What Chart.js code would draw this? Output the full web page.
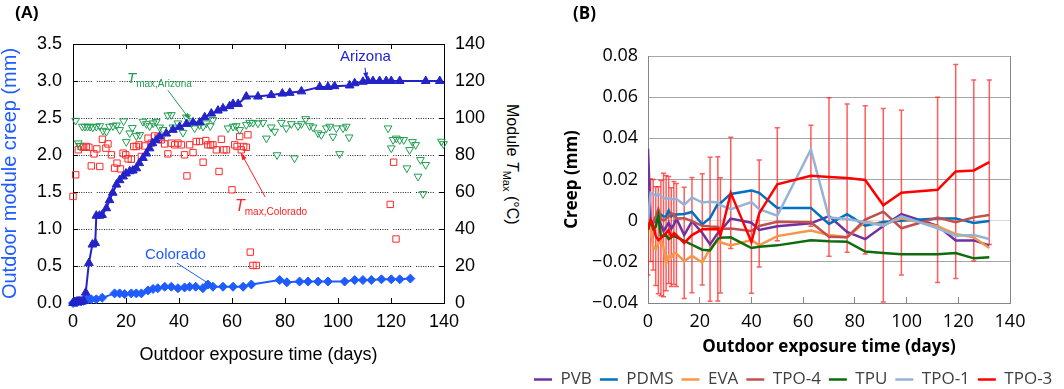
<!DOCTYPE html>
<html lang="en">
<head>
<meta charset="UTF-8">
<title>Outdoor module creep</title>
<style>
  * { margin: 0; padding: 0; box-sizing: border-box; }
  body {
    width: 1064px;
    height: 389px;
    overflow: hidden;
    background: #ffffff;
    position: relative;
    font-family: "Liberation Sans", Arial, sans-serif;
  }
  canvas { position: absolute; top: 0; }
  #chartA { left: 0; }
  #chartB { left: 526px; }
  .lbl { position: absolute; white-space: nowrap; line-height: 1; z-index: 2; }
  .panel { font-weight: bold; font-size: 17px; color: #000; }
  .sub { font-size: 10px; font-style: normal; vertical-align: -4px; }
  #rightTitle {
    left: 520px; top: 104px; font-size: 16px; color: #000;
    transform: rotate(90deg); transform-origin: left top;
  }
</style>
</head>
<body>
  <canvas id="chartA" width="490" height="389"></canvas>
  <canvas id="chartB" width="600" height="398"></canvas>

  <div class="lbl panel" style="left:15px;top:4px;">(A)</div>
  <div class="lbl panel" style="left:573px;top:4px;font-family:'Open Sans',sans-serif;">(B)</div>

  <!-- annotations for panel A -->
  <div class="lbl" style="left:340px;top:48px;font-size:15px;color:#2020e0;">Arizona</div>
  <div class="lbl" style="left:145px;top:246px;font-size:15px;color:#1f5cff;">Colorado</div>
  <div class="lbl" style="left:127px;top:70px;color:#1f9e50;"><i style="font-size:15px">T</i><span class="sub">max,Arizona</span></div>
  <div class="lbl" style="left:235px;top:198px;color:#ff2020;"><i style="font-size:16px">T</i><span class="sub">max,Colorado</span></div>
  <div class="lbl" id="rightTitle">Module <i>T</i><span style="font-size:11px;vertical-align:-4px">Max</span> (°C)</div>

  <script src="https://cdn.jsdelivr.net/npm/chart.js"></script>
  <script>
    // ---- panel A data ----
    const azDays = [0, 0.5, 1, 1.5, 2, 2.5, 3, 3.5, 4, 4.8, 6, 7.3, 8.4, 8.8, 10, 11, 12.6, 13.8, 15, 16.4,
      17.6, 18.9, 20, 21.4, 22.6, 23.9, 25, 26.4, 27.7, 28.9, 30, 31.4, 32.7, 35.2, 37.7, 40.2, 42.8, 45.3, 47.8, 49.7,
      52.2, 54.7, 56.6, 59.1, 60.4, 62.3, 65.4, 69.8, 74.8, 79, 81.8, 86.2, 93.1, 96.2, 98.7, 104.4, 106.3, 109.4, 111.3, 113.2,
      115.7, 118.2, 120.1, 123.3, 133.1, 138.4];
    const azCreep = [0, 0.01, 0.01, 0.02, 0.02, 0.02, 0.02, 0.02, 0.03, 0.14, 0.54, 0.79, 0.81, 1.18, 1.18, 1.19, 1.28, 1.39, 1.49, 1.6,
      1.66, 1.71, 1.75, 1.78, 1.79, 1.82, 1.89, 1.96, 2.02, 2.09, 2.16, 2.2, 2.25, 2.29, 2.34, 2.38, 2.42, 2.44, 2.44, 2.51,
      2.56, 2.6, 2.63, 2.66, 2.69, 2.69, 2.79, 2.79, 2.81, 2.83, 2.84, 2.86, 2.92, 2.92, 2.93, 2.94, 2.97, 2.99, 3.0, 3.0,
      3.0, 3.0, 3.0, 3.0, 3.0, 3.0];

    const coDays = [0, 0.5, 1, 1.5, 2, 3, 4, 5.7, 6.9, 8.8, 11, 15.7, 17.6, 19.5, 22, 23.9, 25.8, 28.3, 30.2, 32,
      34.6, 37.1, 39.6, 42.1, 44, 46.3, 49, 50.9, 52.8, 56.6, 60.4, 64.2, 67.3, 78, 80.7, 85.5, 88.7, 92.5, 96.2, 102.5,
      106.3, 109.4, 112.6, 116.4, 120.1, 123.3, 127.3];
    const coCreep = [0, 0.01, 0.01, 0.01, 0.02, 0.02, 0.03, 0.05, 0.05, 0.05, 0.07, 0.13, 0.13, 0.12, 0.13, 0.13, 0.13, 0.17, 0.19, 0.2,
      0.22, 0.22, 0.2, 0.21, 0.22, 0.22, 0.2, 0.25, 0.22, 0.22, 0.22, 0.22, 0.25, 0.31, 0.28, 0.29, 0.29, 0.29, 0.29, 0.29,
      0.31, 0.31, 0.31, 0.32, 0.32, 0.32, 0.33];

    const tAzDays = [1.0, 2.0, 2.5, 3.5, 4.5, 5.5, 6.5, 7.5, 8.8, 10.1, 11.3, 12.6, 13.8, 15.1, 16.4, 17.6, 19.1, 20.1, 21.4, 22.4,
      23.9, 25.2, 26.4, 27.7, 28.9, 30.2, 31.4, 32.7, 34.0, 35.8, 37.1, 37.7, 39.6, 41.5, 42.8, 44.7, 45.9, 47.8, 49.1, 50.3,
      51.8, 52.8, 58.5, 60.4, 61.6, 62.9, 65.4, 66.7, 67.9, 69.8, 71.7, 73.0, 74.8, 76.1, 77.0, 78.6, 80.5, 82.4, 83.6, 84.9,
      86.2, 87.8, 89.3, 90.6, 92.5, 93.7, 95.6, 96.9, 98.1, 99.4, 100.6, 101.9, 103.1, 104.2, 118.9, 120.1, 120.8, 122.0, 123.3, 124.8,
      126.0, 127.0, 128.1, 129.3, 130.2, 131.1, 132.1, 133.1, 139.0, 139.8];
    const tAzTemp = [98.6, 86.4, 85.0, 95.4, 95.4, 95.4, 95.4, 95.0, 95.4, 95.7, 93.2, 92.7, 95.4, 95.7, 96.1, 93.6, 98.3, 87.1, 91.8, 94.7,
      90.3, 90.9, 98.1, 96.8, 95.7, 97.2, 97.9, 95.0, 93.6, 101.5, 101.7, 95.0, 97.2, 92.1, 100.4, 97.2, 94.5, 96.3, 95.4, 97.2,
      95.7, 99.0, 94.5, 95.4, 95.7, 93.6, 96.3, 97.5, 97.5, 97.2, 97.5, 89.0, 95.0, 92.7, 80.0, 97.5, 94.5, 96.8, 78.3, 95.7,
      96.8, 99.5, 95.7, 95.0, 91.8, 90.9, 94.5, 95.4, 90.0, 94.5, 80.6, 94.5, 95.4, 89.6, 94.5, 83.7, 88.2, 89.0, 88.2, 88.2,
      72.9, 82.8, 87.1, 85.5, 68.4, 77.4, 59.0, 74.7, 87.3, 86.0];

    const tCoDays = [0, 1, 2, 3, 4, 5, 6, 6.9, 7.9, 9, 10.1, 11.1, 12.4, 13.2, 14.5, 15.7, 16.6, 17.9, 18.9, 19.9,
      20.8, 22, 22.9, 23.9, 24.9, 25.8, 27, 28.3, 29.6, 30.8, 32.1, 33.3, 34.6, 35.8, 37.1, 38.4, 39.6, 40.9, 42.1, 43,
      44, 45.3, 46.5, 47.8, 49.1, 50.1, 50.9, 51.9, 52.8, 54.1, 55.1, 56, 56.9, 57.9, 60, 61, 61.9, 62.9, 63.5, 64.4,
      65.4, 66, 66.9, 67.9, 69.2, 119.7, 121, 121.9];
    const tCoTemp = [57.6, 69.3, 82.8, 84.6, 84.2, 84.6, 84.2, 74.1, 80.6, 83.3, 73.8, 88.5, 83.7, 86, 80.1, 72.9, 75.6, 72.5, 81, 80.1,
      77.9, 77.7, 84.6, 84.6, 85.5, 79.2, 84.9, 89.1, 86.4, 90.3, 89.6, 88.2, 86, 80.6, 86.4, 85.5, 86.4, 85.5, 80.1, 68.7,
      85.5, 81.3, 87.3, 87.3, 76.1, 87.8, 85.5, 85.5, 85.5, 82.8, 71.1, 88.5, 82.8, 82.8, 61.2, 85.5, 84.6, 90, 82.8, 84.6,
      84.2, 90.9, 27.5, 20.3, 20.3, 53.3, 76.1, 34.6];

    // annotation arrows (data coordinates): from label to target
    const arrowsA = [
      { from: [110.2, 3.18], to: [110.8, 3.02], axis: 'y', color: '#2020e0', head: true },
      { from: [39.2, 0.54], to: [50.9, 0.27], axis: 'y', color: '#1f5cff', head: false },
      { from: [35.8, 115], to: [44.2, 99], axis: 'y2', color: '#1f9e50', head: true },
      { from: [72.5, 57.3], to: [63.4, 81.1], axis: 'y2', color: '#ff2020', head: true }
    ];

    // ---- panel B data ----
    const bDays = [0, 1, 2, 3, 4, 5, 6, 7, 8, 9, 10, 11, 14, 17, 21, 24, 27, 28, 32, 40, 43, 50, 63, 70, 77, 84, 91, 98, 112, 119, 126, 132];
    const pvb = [0.035, 0.0, -0.001, 0.0, 0.001, -0.002, -0.005, -0.003, -0.001, -0.004, -0.002, 0.001,
      -0.007, -0.0003, -0.006, -0.0115, -0.006, -0.005, 0.001, -0.001, -0.0045, -0.0027, -0.0013, 0.0022,
      -0.0055, -0.009, -0.0026, 0.0032, -0.0025, -0.0096, -0.0096, -0.012];
    const pdms = [0, 0, -0.001, 0, 0.002, 0.003, 0.002, 0.002, 0.005, 0.002, 0.003, 0.003,
      0.0032, 0.0042, -0.0018, 0.0013, 0.0082, 0.0085, 0.013, 0.0147, 0.0135, 0.0062, 0.0062, -0.0016,
      0.0032, -0.0024, -0.0006, 0.0, 0.0011, 0.0011, -0.0011, -0.0002];
    const eva = [0, -0.004, -0.0125, -0.014, -0.011, -0.009, -0.013, -0.021, -0.017, -0.018, -0.0157, -0.016,
      -0.0197, -0.017, -0.0203, -0.0135, -0.0095, -0.0105, -0.012, -0.0094, -0.012, -0.0075, -0.0048, -0.007,
      -0.0081, -0.0005, -0.0021, 0.0011, -0.0027, -0.0065, -0.0081, -0.0133];
    const tpo4 = [-0.003, 0, -0.001, 0.002, 0.0057, 0.001, 0.0, 0.001, 0.002, 0.0037, 0.003, 0.001,
      0.0012, -0.0002, -0.0025, -0.0028, -0.003, -0.004, -0.0038, -0.005, -0.0026, -0.0005, -0.0008, -0.0078,
      -0.0081, 0.0005, 0.0044, -0.0037, 0.0015, -0.0008, 0.0016, 0.0027];
    const tpu = [-0.0044, 0.0, -0.004, -0.003, 0.0025, -0.008, -0.0075, -0.007, -0.009, -0.008, -0.0075, -0.008,
      -0.0098, -0.0117, -0.0141, -0.0145, -0.0089, -0.0083, -0.0081, -0.0133, -0.0127, -0.012, -0.0095, -0.01,
      -0.0102, -0.015, -0.0157, -0.0163, -0.0163, -0.0157, -0.0183, -0.0178];
    const tpo1 = [0, 0.0135, 0.013, 0.012, 0.013, 0.012, 0.011, 0.0105, 0.011, 0.0105, 0.0105, 0.0105,
      0.0077, 0.0113, 0.0088, 0.0092, 0.0088, 0.0075, 0.0056, 0.009, 0.0056, 0.0024, 0.0346, 0.0015,
      0.0008, -0.0008, -0.0024, 0.0021, -0.0037, -0.0073, -0.007, -0.0089];
    const tpo3 = [-0.0044, 0.0002, -0.002, -0.0075, -0.0095, -0.0085, -0.007, -0.006, -0.0045, -0.008, -0.006, -0.007,
      -0.0108, -0.007, -0.0042, -0.0042, -0.004, -0.0072, 0.0135, -0.0103, 0.0035, 0.0177, 0.0218, 0.0212,
      0.0207, 0.0198, 0.0075, 0.0136, 0.015, 0.0239, 0.0244, 0.0284];
    const tpo3Err = [0.022, 0.02, 0.022, 0.024, 0.026, 0.028, 0.030, 0.028, 0.026, 0.024, 0.025, 0.025,
      0.027, 0.028, 0.027, 0.035, 0.035, 0.028, 0.027, 0.025, 0.026, 0.0275, 0.0245, 0.0385,
      0.036, 0.036, 0.047, 0.040, 0.045, 0.052, 0.044, 0.040];

    const seriesNames = ['PVB', 'PDMS', 'EVA', 'TPO-4', 'TPU', 'TPO-1', 'TPO-3'];
    const seriesVals = [pvb, pdms, eva, tpo4, tpu, tpo1, tpo3];
    const seriesColors = ['#7030a0', '#0070c0', '#f79646', '#c0504d', '#0e6b0e', '#95b3d7', '#ff0000'];

    const FA = '"Liberation Sans", Arial, sans-serif';
    const FB = '"Open Sans", sans-serif';
    const pts = (xs, ys) => xs.map((x, i) => ({ x: x, y: ys[i] }));
    const fitW = w => s => { s.width = w; };
    const fitH = h => s => { s.height = h; };

    // dotted gridline pattern of panel A (runs of dots with small gaps)
    const dots = [1, 1.4, 1, 1.4, 1, 1.4, 1, 1.4, 1, 1.4, 1, 1.4, 1, 1.4, 1, 5];

    const arrowPlugin = {
      id: 'arrows',
      afterDatasetsDraw(chart) {
        const ctx = chart.ctx;
        const sx = chart.scales.x;
        arrowsA.forEach(a => {
          const sy = chart.scales[a.axis];
          const x1 = sx.getPixelForValue(a.from[0]), y1 = sy.getPixelForValue(a.from[1]);
          const x2 = sx.getPixelForValue(a.to[0]), y2 = sy.getPixelForValue(a.to[1]);
          ctx.save();
          ctx.strokeStyle = a.color;
          ctx.fillStyle = a.color;
          ctx.lineWidth = 1;
          ctx.beginPath();
          ctx.moveTo(x1, y1);
          ctx.lineTo(x2, y2);
          ctx.stroke();
          if (a.head) {
            const ang = Math.atan2(y2 - y1, x2 - x1);
            const L = 7, W = 2.5;
            const bx = x2 - L * Math.cos(ang), by = y2 - L * Math.sin(ang);
            ctx.beginPath();
            ctx.moveTo(x2, y2);
            ctx.lineTo(bx + W * Math.sin(ang), by - W * Math.cos(ang));
            ctx.lineTo(bx - W * Math.sin(ang), by + W * Math.cos(ang));
            ctx.closePath();
            ctx.fill();
          }
          ctx.restore();
        });
      }
    };

    new Chart(document.getElementById('chartA'), {
      type: 'line',
      data: {
        datasets: [
          {
            label: 'Arizona', data: pts(azDays, azCreep), yAxisID: 'y',
            borderColor: '#2323c8', backgroundColor: '#2323c8', borderWidth: 2,
            pointStyle: 'triangle', pointRadius: 5, pointBorderWidth: 1, clip: 10
          },
          {
            label: 'Colorado', data: pts(coDays, coCreep), yAxisID: 'y',
            borderColor: '#1f5cff', backgroundColor: '#1f5cff', borderWidth: 2,
            pointStyle: 'rectRot', pointRadius: 4.5, pointBorderWidth: 1, clip: 10
          },
          {
            label: 'Tmax,Arizona', data: pts(tAzDays, tAzTemp), yAxisID: 'y2', showLine: false,
            borderColor: '#1f9e50', backgroundColor: 'rgba(0,0,0,0)',
            pointStyle: 'triangle', pointRotation: 180, pointRadius: 4.5, pointBorderWidth: 1, clip: 10
          },
          {
            label: 'Tmax,Colorado', data: pts(tCoDays, tCoTemp), yAxisID: 'y2', showLine: false,
            borderColor: '#ff2a2a', backgroundColor: 'rgba(0,0,0,0)',
            pointStyle: 'rect', pointRadius: 4.5, pointBorderWidth: 1, clip: 10
          }
        ]
      },
      options: {
        responsive: false,
        animation: false,
        layout: { padding: 0 },
        plugins: { legend: { display: false }, tooltip: { enabled: false } },
        scales: {
          x: {
            type: 'linear', position: 'bottom', min: 0, max: 140,
            ticks: { stepSize: 20, color: '#000', font: { family: FA, size: 18 }, padding: 13, maxRotation: 0 },
            grid: { drawOnChartArea: false, tickLength: -5, tickColor: '#000' },
            border: { color: '#000' },
            title: {
              display: true, text: 'Outdoor exposure time (days)', color: '#000',
              font: { family: FA, size: 18 }, padding: { top: 0, bottom: 23 }
            },
            afterFit: fitH(86)
          },
          x2: {
            type: 'linear', position: 'top', min: 0, max: 140,
            ticks: { stepSize: 20, display: false },
            grid: { drawOnChartArea: false, tickLength: -5, tickColor: '#000' },
            border: { color: '#000' },
            afterFit: fitH(44)
          },
          y: {
            type: 'linear', position: 'left', min: 0, max: 3.5,
            ticks: { stepSize: 0.5, callback: v => v.toFixed(1), color: '#000', font: { family: FA, size: 18 }, padding: 16 },
            grid: { color: '#222', tickLength: -5, tickColor: '#000', tickBorderDash: [] },
            border: { color: '#000', dash: dots },
            title: {
              display: true, text: 'Outdoor module creep (mm)', color: '#1f5cff',
              font: { family: FA, size: 20, lineHeight: 1 }, padding: { top: 0, bottom: 0 }
            },
            afterFit: fitW(73)
          },
          y2: {
            type: 'linear', position: 'right', min: 0, max: 140,
            ticks: { stepSize: 20, color: '#000', font: { family: FA, size: 18 }, padding: 16 },
            grid: { drawOnChartArea: false, tickLength: -5, tickColor: '#000' },
            border: { color: '#000' },
            afterFit: fitW(46)
          }
        }
      },
      plugins: [arrowPlugin]
    });

    // error bars of TPO-3, drawn under the lines
    const errorBars = {
      id: 'errorBars',
      beforeDatasetsDraw(chart) {
        const { ctx, chartArea, scales: { x, y } } = chart;
        ctx.save();
        ctx.beginPath();
        ctx.rect(chartArea.left, chartArea.top, chartArea.right - chartArea.left, chartArea.bottom - chartArea.top);
        ctx.clip();
        ctx.strokeStyle = 'rgba(255,30,30,0.72)';
        ctx.lineWidth = 1.5;
        bDays.forEach((d, i) => {
          const px = x.getPixelForValue(d);
          const yTop = y.getPixelForValue(tpo3[i] + tpo3Err[i]);
          const yBot = y.getPixelForValue(tpo3[i] - tpo3Err[i]);
          ctx.beginPath();
          ctx.moveTo(px, yTop); ctx.lineTo(px, yBot);
          ctx.moveTo(px - 2.5, yTop); ctx.lineTo(px + 2.5, yTop);
          ctx.moveTo(px - 2.5, yBot); ctx.lineTo(px + 2.5, yBot);
          ctx.stroke();
        });
        ctx.restore();
      }
    };

    // dataset 0 is drawn last by Chart.js, so the list is reversed to keep TPO-3 on top
    const datasetsB = seriesNames.map((name, i) => ({
      label: name,
      data: pts(bDays, seriesVals[i]),
      borderColor: seriesColors[i],
      backgroundColor: seriesColors[i],
      borderWidth: 2.5,
      pointRadius: 0,
      tension: 0
    })).reverse();

    const fmtB = v => {
      if (Math.abs(v) < 1e-9) return '0';
      return (v < 0 ? '\u2212' : '') + Math.abs(v).toFixed(2);
    };

    new Chart(document.getElementById('chartB'), {
      type: 'line',
      data: { datasets: datasetsB },
      options: {
        responsive: false,
        animation: false,
        layout: { padding: { top: 56, left: 0, right: 0, bottom: 0 } },
        plugins: {
          tooltip: { enabled: false },
          legend: {
            position: 'bottom', align: 'start', reverse: true,
            labels: {
              usePointStyle: true, pointStyle: 'line', pointStyleWidth: 18, padding: 8,
              color: '#404040', font: { family: FB, size: 17 }
            }
          }
        },
        scales: {
          x: {
            type: 'linear', position: 'bottom', min: 0, max: 140,
            ticks: { stepSize: 20, color: '#000', font: { family: FB, size: 18 }, padding: 14, maxRotation: 0 },
            grid: { drawOnChartArea: false, tickLength: -6, tickColor: '#868686' },
            border: { color: '#868686' },
            title: {
              display: true, text: 'Outdoor exposure time (days)', color: '#000',
              font: { family: FB, size: 17, weight: 'bold' }, padding: { top: 0, bottom: 6 }
            },
            afterFit: fitH(60)
          },
          y: {
            type: 'linear', position: 'left', min: -0.04, max: 0.08,
            ticks: { stepSize: 0.02, callback: fmtB, color: '#000', font: { family: FB, size: 18 }, padding: 10 },
            grid: {
              drawTicks: false,
              color: c => (c.tick && Math.abs(c.tick.value) < 1e-9) ? '#d9d9d9' : '#a6a6a6'
            },
            border: { color: '#868686' },
            title: {
              display: true, text: 'Creep (mm)', color: '#000',
              font: { family: FB, size: 17, weight: 'bold' }, padding: { top: 36, bottom: 0 }
            },
            afterFit: fitW(122)
          },
          yr: {
            type: 'linear', position: 'right', min: 0, max: 1,
            ticks: { display: false },
            grid: { display: false, drawTicks: false },
            border: { color: '#868686' },
            afterFit: fitW(116)
          }
        }
      },
      plugins: [errorBars]
    });
  </script>
</body>
</html>
